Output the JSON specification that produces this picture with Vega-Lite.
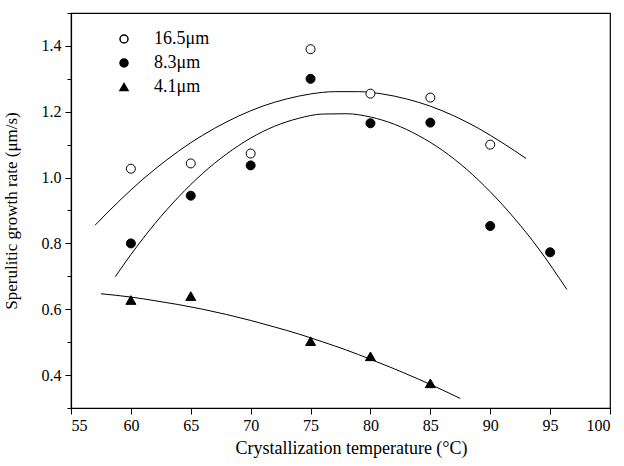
{
  "$schema": "https://vega.github.io/schema/vega-lite/v6.json",
  "width": 539,
  "height": 395,
  "autosize": "none",
  "padding": {"left": 71, "top": 13, "right": 14, "bottom": 58},
  "background": "white",
  "config": {
    "font": "Liberation Serif",
    "view": {"stroke": "black", "strokeWidth": 1.2},
    "axis": {"labelFont": "Liberation Serif", "titleFont": "Liberation Serif", "labelColor": "black", "titleColor": "black", "domainColor": "black", "tickColor": "black", "grid": false, "titleFontWeight": "normal"}
  },
  "datasets": {
    "points": [
      {"T": 60, "rate": 1.027, "series": "16.5μm"},
      {"T": 65, "rate": 1.043, "series": "16.5μm"},
      {"T": 70, "rate": 1.073, "series": "16.5μm"},
      {"T": 75, "rate": 1.39, "series": "16.5μm"},
      {"T": 80, "rate": 1.255, "series": "16.5μm"},
      {"T": 85, "rate": 1.243, "series": "16.5μm"},
      {"T": 90, "rate": 1.1, "series": "16.5μm"},
      {"T": 60, "rate": 0.8, "series": "8.3μm"},
      {"T": 65, "rate": 0.945, "series": "8.3μm"},
      {"T": 70, "rate": 1.037, "series": "8.3μm"},
      {"T": 75, "rate": 1.3, "series": "8.3μm"},
      {"T": 80, "rate": 1.165, "series": "8.3μm"},
      {"T": 85, "rate": 1.167, "series": "8.3μm"},
      {"T": 90, "rate": 0.853, "series": "8.3μm"},
      {"T": 95, "rate": 0.773, "series": "8.3μm"},
      {"T": 60, "rate": 0.628, "series": "4.1μm"},
      {"T": 65, "rate": 0.64, "series": "4.1μm"},
      {"T": 75, "rate": 0.503, "series": "4.1μm"},
      {"T": 80, "rate": 0.457, "series": "4.1μm"},
      {"T": 85, "rate": 0.375, "series": "4.1μm"}
    ],
    "fits": [
      {"T": 57, "fit": 0.855, "series": "16.5μm"},
      {"T": 59, "fit": 0.928, "series": "16.5μm"},
      {"T": 61, "fit": 0.995, "series": "16.5μm"},
      {"T": 63, "fit": 1.054, "series": "16.5μm"},
      {"T": 65, "fit": 1.106, "series": "16.5μm"},
      {"T": 67, "fit": 1.15, "series": "16.5μm"},
      {"T": 69, "fit": 1.187, "series": "16.5μm"},
      {"T": 71, "fit": 1.217, "series": "16.5μm"},
      {"T": 73, "fit": 1.239, "series": "16.5μm"},
      {"T": 75, "fit": 1.254, "series": "16.5μm"},
      {"T": 77, "fit": 1.261, "series": "16.5μm"},
      {"T": 79, "fit": 1.261, "series": "16.5μm"},
      {"T": 81, "fit": 1.254, "series": "16.5μm"},
      {"T": 83, "fit": 1.239, "series": "16.5μm"},
      {"T": 85, "fit": 1.217, "series": "16.5μm"},
      {"T": 87, "fit": 1.187, "series": "16.5μm"},
      {"T": 89, "fit": 1.15, "series": "16.5μm"},
      {"T": 91, "fit": 1.106, "series": "16.5μm"},
      {"T": 93, "fit": 1.058, "series": "16.5μm"},
      {"T": 58.7, "fit": 0.699, "series": "8.3μm"},
      {"T": 60, "fit": 0.766, "series": "8.3μm"},
      {"T": 62, "fit": 0.86, "series": "8.3μm"},
      {"T": 64, "fit": 0.942, "series": "8.3μm"},
      {"T": 66, "fit": 1.013, "series": "8.3μm"},
      {"T": 68, "fit": 1.072, "series": "8.3μm"},
      {"T": 70, "fit": 1.12, "series": "8.3μm"},
      {"T": 72, "fit": 1.156, "series": "8.3μm"},
      {"T": 74, "fit": 1.18, "series": "8.3μm"},
      {"T": 76, "fit": 1.193, "series": "8.3μm"},
      {"T": 78, "fit": 1.194, "series": "8.3μm"},
      {"T": 80, "fit": 1.184, "series": "8.3μm"},
      {"T": 82, "fit": 1.162, "series": "8.3μm"},
      {"T": 84, "fit": 1.128, "series": "8.3μm"},
      {"T": 86, "fit": 1.083, "series": "8.3μm"},
      {"T": 88, "fit": 1.026, "series": "8.3μm"},
      {"T": 90, "fit": 0.957, "series": "8.3μm"},
      {"T": 92, "fit": 0.877, "series": "8.3μm"},
      {"T": 94, "fit": 0.786, "series": "8.3μm"},
      {"T": 96.4, "fit": 0.66, "series": "8.3μm"},
      {"T": 57.5, "fit": 0.647, "series": "4.1μm"},
      {"T": 60, "fit": 0.637, "series": "4.1μm"},
      {"T": 62, "fit": 0.626, "series": "4.1μm"},
      {"T": 64, "fit": 0.614, "series": "4.1μm"},
      {"T": 66, "fit": 0.6, "series": "4.1μm"},
      {"T": 68, "fit": 0.584, "series": "4.1μm"},
      {"T": 70, "fit": 0.566, "series": "4.1μm"},
      {"T": 72, "fit": 0.546, "series": "4.1μm"},
      {"T": 74, "fit": 0.525, "series": "4.1μm"},
      {"T": 76, "fit": 0.501, "series": "4.1μm"},
      {"T": 78, "fit": 0.476, "series": "4.1μm"},
      {"T": 80, "fit": 0.448, "series": "4.1μm"},
      {"T": 82, "fit": 0.419, "series": "4.1μm"},
      {"T": 84, "fit": 0.388, "series": "4.1μm"},
      {"T": 86, "fit": 0.355, "series": "4.1μm"},
      {"T": 87.5, "fit": 0.329, "series": "4.1μm"}
    ]
  },
  "resolve": {"scale": {"y": "independent"}, "axis": {"y": "independent"}},
  "layer": [
    {
      "data": {"name": "fits"},
      "mark": {"type": "line", "color": "black", "strokeWidth": 1, "interpolate": "monotone", "clip": true},
      "encoding": {
        "x": {"field": "T", "type": "quantitative", "scale": {"domain": [55, 100], "nice": false, "zero": false},
          "axis": {"values": [55, 57.5, 60, 62.5, 65, 67.5, 70, 72.5, 75, 77.5, 80, 82.5, 85, 87.5, 90, 92.5, 95, 97.5, 100],
            "labelExpr": "datum.value % 5 === 0 ? datum.label : ''",
            "tickSize": 6,
            "tickDash": {"condition": {"test": "datum.value % 5 === 0", "value": []}, "value": [4, 20]},
            "labelFont": "Liberation Serif", "labelFontSize": 16, "labelPadding": 3, "title": "Crystallization temperature (°C)", "titleFont": "Liberation Serif", "titleFontSize": 18, "titlePadding": 6, "titleX": 280, "domainWidth": 1.2, "tickWidth": 1}},
        "y": {"field": "fit", "type": "quantitative", "scale": {"domain": [0.3, 1.5], "nice": false, "zero": false},
          "axis": {"orient": "left", "values": [0.4, 0.6, 0.8, 1.0, 1.2, 1.4], "format": ".1f",
            "tickSize": 6,
            "labelFont": "Liberation Serif", "labelFontSize": 16, "labelPadding": 4, "title": "Sperulitic growth rate (μm/s)", "titleFont": "Liberation Serif", "titleFontSize": 17, "titlePadding": 21, "domainWidth": 1.2, "tickWidth": 1}},
        "detail": {"field": "series"}
      }
    },
    {
      "data": {"name": "points"},
      "mark": {"type": "point", "opacity": 0},
      "encoding": {
        "x": {"field": "T", "type": "quantitative"},
        "y": {"field": "rate", "type": "quantitative", "scale": {"domain": [0.3, 1.5], "nice": false, "zero": false},
          "axis": {"orient": "left", "values": [0.3, 0.5, 0.7, 0.9, 1.1, 1.3, 1.5], "labels": false, "tickSize": 4, "tickWidth": 1, "domain": false, "title": null, "grid": false}}
      }
    },
    {
      "data": {"name": "points"},
      "mark": {"type": "point", "stroke": "black", "strokeWidth": 1, "opacity": 1, "filled": false},
      "encoding": {
        "x": {"field": "T", "type": "quantitative"},
        "y": {"field": "rate", "type": "quantitative", "scale": {"domain": [0.3, 1.5], "nice": false, "zero": false}, "axis": null},
        "shape": {"field": "series", "type": "nominal",
          "scale": {"domain": ["16.5μm", "8.3μm", "4.1μm"], "range": ["circle", "circle", "triangle-up"]},
          "legend": {"title": null, "orient": "none", "legendX": 44, "legendY": 17, "labelFontSize": 18, "labelFont": "Liberation Serif", "labelColor": "black", "symbolSize": 64, "rowPadding": 6, "labelOffset": 21, "padding": 0,
            "encode": {"symbols": {"update": {"stroke": {"value": "black"}, "strokeWidth": {"value": 1}, "size": {"signal": "datum.value === '4.1μm' ? 100 : 60"}}}}}},
        "fill": {"field": "series", "type": "nominal",
          "scale": {"domain": ["16.5μm", "8.3μm", "4.1μm"], "range": ["white", "black", "black"]},
          "legend": {"title": null, "orient": "none", "legendX": 44, "legendY": 17, "labelFontSize": 18, "labelFont": "Liberation Serif", "labelColor": "black", "symbolSize": 64, "rowPadding": 6, "labelOffset": 21, "padding": 0,
            "encode": {"symbols": {"update": {"stroke": {"value": "black"}, "strokeWidth": {"value": 1}, "size": {"signal": "datum.value === '4.1μm' ? 100 : 60"}}}}}},
        "size": {"condition": {"test": "datum.series === '4.1μm'", "value": 100}, "value": 81}
      }
    }
  ]
}
